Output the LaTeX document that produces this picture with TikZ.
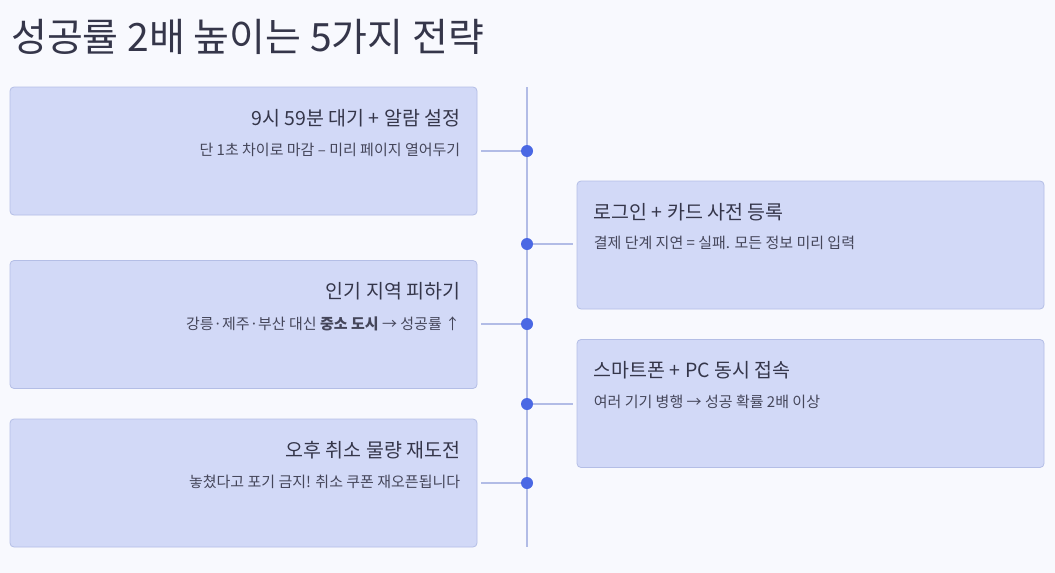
\documentclass[tikz,border=0pt]{standalone}
\usepackage{fontspec}
\setmainfont{Noto Sans CJK KR}
\usetikzlibrary{calc,positioning}
\definecolor{bgfill}{HTML}{F8F9FE}
\definecolor{cardfill}{HTML}{D2D9F7}
\definecolor{cardline}{HTML}{B4BEE6}
\definecolor{axis}{HTML}{B2BCE6}
\definecolor{dotblue}{HTML}{4A68E4}
\definecolor{headtext}{HTML}{35364A}
\definecolor{subtext}{HTML}{45465A}

\begin{document}
\begin{tikzpicture}[x=1pt,y=-1pt,
    card/.style={draw=cardline,fill=cardfill,line width=0.8pt,rounded corners=4pt,
      minimum width=467pt,minimum height=128pt,inner sep=0pt},
    head/.style={text=headtext,font=\fontsize{19.5}{23}\selectfont,inner sep=0pt},
    sub/.style={text=subtext,font=\fontsize{15}{18}\selectfont,inner sep=0pt},
    dot/.style={circle,fill=dotblue,inner sep=0pt,minimum size=12pt},
    link/.style={draw=axis,line width=1.5pt}]
  \fill[bgfill] (0,0) rectangle (1055,573);

  \node[anchor=west,inner sep=0pt,text=headtext,font=\fontsize{39}{44}\selectfont]
    (title) at (11,37) {성공률 2배 높이는 5가지 전략};

  % time line
  \coordinate (top) at (527,87);
  \coordinate (bot) at (527,547);
  \draw[link] (top) -- (bot);

  % cards, left and right
  \node[card] (c1) at (243.5,151) {};
  \node[card] (c2) at (810.5,245) {};
  \node[card] (c3) at (243.5,324.5) {};
  \node[card] (c4) at (810.5,403.5) {};
  \node[card] (c5) at (243.5,483) {};

  \node[head,anchor=east] (h1) at ($(c1.east)+(-17,-33)$) {9시 59분 대기 + 알람 설정};
  \node[sub,anchor=east] (s1) at ($(c1.east)+(-17,-1)$) {단 1초 차이로 마감 – 미리 페이지 열어두기};
  \node[head,anchor=west] (h2) at ($(c2.west)+(17,-33)$) {로그인 + 카드 사전 등록};
  \node[sub,anchor=west] (s2) at ($(c2.west)+(17,-2)$) {결제 단계 지연 = 실패. 모든 정보 미리 입력};
  \node[head,anchor=east] (h3) at ($(c3.east)+(-17,-33)$) {인기 지역 피하기};
  \node[sub,anchor=east] (s3) at ($(c3.east)+(-17,-1)$) {강릉·제주·부산 대신 \textbf{중소 도시} → 성공률 ↑};
  \node[head,anchor=west] (h4) at ($(c4.west)+(17,-33)$) {스마트폰 + PC 동시 접속};
  \node[sub,anchor=west] (s4) at ($(c4.west)+(17,-2)$) {여러 기기 병행 → 성공 확률 2배 이상};
  \node[head,anchor=east] (h5) at ($(c5.east)+(-17,-33)$) {오후 취소 물량 재도전};
  \node[sub,anchor=east] (s5) at ($(c5.east)+(-17,-1)$) {놓쳤다고 포기 금지! 취소 쿠폰 재오픈됩니다};

  % dots on the line
  \node[dot] (d1) at (527,151) {};
  \node[dot] (d2) at (527,244) {};
  \node[dot] (d3) at (527,324) {};
  \node[dot] (d4) at (527,404) {};
  \node[dot] (d5) at (527,483) {};

  \draw[link,shorten <=4pt] (c1.east |- d1) -- (d1);
  \draw[link,shorten <=4pt] (c2.west |- d2) -- (d2);
  \draw[link,shorten <=4pt] (c3.east |- d3) -- (d3);
  \draw[link,shorten <=4pt] (c4.west |- d4) -- (d4);
  \draw[link,shorten <=4pt] (c5.east |- d5) -- (d5);
\end{tikzpicture}
\end{document}
